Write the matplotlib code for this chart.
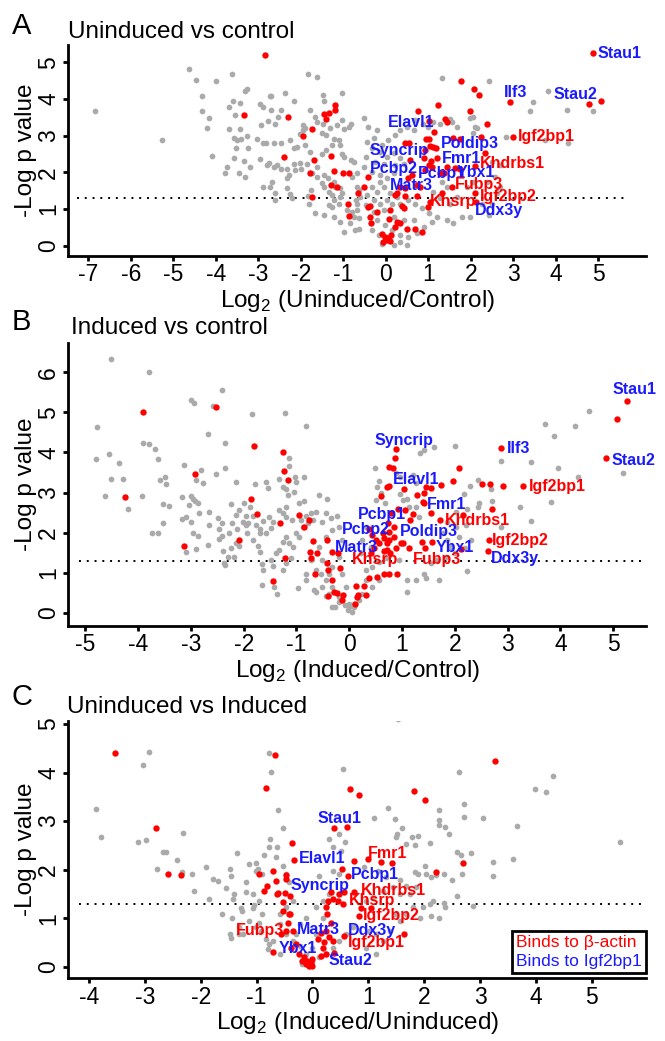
import numpy as np
import matplotlib
matplotlib.use("Agg")
import matplotlib.pyplot as plt
from matplotlib.lines import Line2D

plt.rcParams['font.family'] = ['Liberation Sans', 'DejaVu Sans']
plt.rcParams['axes.unicode_minus'] = False
plt.rcParams['mathtext.fontset'] = 'custom'
plt.rcParams['mathtext.rm'] = 'Liberation Sans'

GRAY = '#aaaaaa'
RED = '#ff0000'
BLUE = '#1a1aff'
thresh = -np.log10(0.05)

# ---------------- Panel A: Uninduced vs control ----------------
gray_a = [
    (-6.85, 3.67), (-5.27, 2.88), (-4.64, 4.82), (-4.48, 4.51), (-4.01, 4.48), (-4.33, 4.08), (-4.33, 3.68),
    (-4.17, 3.47), (-4.22, 3.22), (-4.09, 2.44), (-3.62, 4.67), (-3.61, 3.94), (-3.70, 3.77), (-3.44, 3.88),
    (-3.54, 3.56), (-3.69, 3.18), (-3.44, 3.18), (-3.58, 2.94), (-3.50, 2.88), (-3.42, 2.92), (-3.52, 2.65),
    (-3.24, 2.65), (-3.27, 2.99), (-3.58, 2.38), (-3.35, 2.31), (-3.74, 2.15), (-3.79, 1.99), (-3.45, 1.99),
    (-3.31, 1.88), (-3.19, 2.15), (-3.31, 4.21), (-3.27, 4.27), (-2.97, 3.86), (-2.89, 3.77), (-2.95, 3.29),
    (-2.78, 3.41), (-2.73, 4.08), (-2.70, 4.08), (-3.03, 2.90), (-2.89, 2.81), (-2.83, 2.79), (-2.97, 2.35),
    (-2.64, 2.79), (-2.70, 3.70), (-2.55, 3.50), (-2.37, 4.15), (-2.17, 3.95), (-2.46, 3.70), (-2.60, 3.33),
    (-2.48, 2.81), (-2.89, 1.59), (-2.68, 1.74), (-2.72, 1.61), (-2.75, 2.26), (-2.81, 2.20), (-2.64, 2.15),
    (-2.56, 2.20), (-2.48, 2.10), (-2.33, 2.08), (-2.29, 1.93), (-2.33, 1.84), (-2.33, 1.56), (-2.60, 1.44),
    (-2.60, 1.24), (-2.25, 1.40), (-2.21, 1.29), (-2.25, 2.88), (-2.02, 3.04), (-2.17, 2.65), (-2.09, 2.68),
    (-1.94, 3.29), (-1.90, 3.20), (-1.96, 3.15), (-1.83, 4.68), (-1.62, 4.60), (-1.78, 3.71), (-1.68, 3.52),
    (-1.62, 3.38), (-1.90, 2.74), (-1.78, 2.56), (-1.86, 2.24), (-1.62, 2.15), (-1.74, 1.97), (-1.62, 1.88),
    (-1.76, 1.53), (-1.83, 1.35), (-1.81, 1.15), (-2.02, 2.26), (-2.17, 2.24), (-2.13, 2.06), (-2.00, 2.08),
    (-1.66, 0.90), (-1.46, 0.83), (-1.48, 4.10), (-1.46, 3.94), (-1.03, 4.15), (-1.48, 3.31), (-1.32, 3.20),
    (-1.50, 3.06), (-1.42, 3.02), (-1.27, 2.74), (-1.42, 2.61), (-1.50, 2.50), (-1.07, 2.74), (-1.03, 3.42),
    (-1.15, 3.29), (-0.99, 3.17), (-0.87, 3.24), (-0.83, 3.33), (-1.23, 2.92), (-1.11, 2.88), (-1.03, 2.50),
    (-0.99, 2.43), (-0.83, 2.34), (-0.75, 2.29), (-1.46, 1.93), (-1.36, 1.84), (-1.50, 1.70), (-1.46, 1.61),
    (-1.23, 1.74), (-1.19, 1.61), (-1.34, 1.47), (-1.27, 1.38), (-1.09, 1.56), (-1.03, 1.45), (-1.07, 1.34),
    (-1.11, 1.15), (-1.23, 1.24), (-1.34, 1.11), (-1.27, 1.06), (-0.99, 0.38), (-0.91, 0.97), (-0.79, 0.93),
    (-0.75, 0.79), (-0.63, 0.47), (-0.71, 1.24), (-0.68, 1.15), (-0.68, 1.61), (-0.64, 1.52), (-0.79, 1.88),
    (-0.68, 1.97), (-1.23, 0.79), (-1.07, 0.65), (-0.84, 0.61), (-0.68, 0.97), (-0.60, 1.34), (-0.72, 0.43),
    (-0.64, 0.75),
    (-0.52, 3.47), (-0.41, 3.24), (-0.21, 3.15), (-0.29, 2.93), (-0.45, 2.83), (-0.09, 2.74), (0.06, 2.88),
    (0.22, 3.02), (0.34, 3.15), (0.50, 3.24), (0.65, 3.15), (0.69, 3.42), (0.87, 3.32), (1.12, 3.38),
    (1.28, 3.33), (1.67, 3.24), (2.06, 3.52), (2.14, 3.20), (2.06, 3.06), (-0.33, 2.65), (-0.13, 2.56),
    (0.03, 2.43), (0.18, 2.52), (0.34, 2.38), (0.42, 2.24), (0.22, 2.20), (-0.05, 2.24), (-0.25, 2.29),
    (-0.48, 2.43), (-0.52, 2.15), (-0.33, 2.02), (-0.13, 1.93), (0.03, 1.84), (0.18, 1.97), (-0.13, 1.74),
    (-0.33, 1.61), (-0.21, 1.47), (-0.05, 1.61), (0.10, 1.43), (0.26, 1.34), (0.03, 1.24), (-0.13, 1.15),
    (-0.29, 1.24), (-0.45, 1.38), (-0.48, 1.11), (-0.29, 0.93), (-0.05, 0.97), (0.14, 1.15), (0.34, 1.15),
    (0.53, 1.24), (0.69, 1.15), (0.85, 1.02), (1.01, 0.88), (1.20, 0.79), (1.44, 0.70), (1.59, 0.61),
    (1.79, 0.79), (1.99, 0.79), (2.42, 0.84), (2.26, 1.15), (2.50, 1.15), (2.61, 1.43), (2.69, 1.61),
    (2.57, 1.88), (2.38, 1.74), (2.06, 1.74), (1.91, 1.61), (1.67, 1.34), (1.52, 1.15), (1.28, 1.29),
    (1.12, 1.47), (1.44, 1.61), (1.32, 1.74), (-0.21, 0.70), (-0.01, 0.56), (0.14, 0.43), (0.34, 0.29),
    (0.53, 0.25), (0.73, 0.34), (0.89, 0.52), (1.08, 0.65), (0.65, 0.70), (0.42, 0.70), (0.18, 0.79),
    (-0.33, 0.43), (-0.17, 0.29), (0.03, 0.20), (-0.09, 0.06), (0.18, 0.02), (0.34, 0.11), (0.50, 0.02),
    (2.69, 2.20), (2.50, 2.29), (3.47, 3.92), (3.81, 4.22), (4.26, 3.71), (4.87, 3.68), (3.38, 3.68),
    (2.83, 2.95), (3.75, 2.88), (4.28, 2.79), (1.32, 4.56), (2.42, 4.50), (1.99, 3.47), (1.52, 3.44),
    (1.56, 3.38), (1.00, 3.24), (2.10, 3.24),
]
red_a = [
    (-2.84, 5.19), (-3.35, 3.56), (-2.30, 3.50), (-2.41, 2.43), (-1.96, 2.99), (-1.74, 3.17), (-1.69, 2.34),
    (-1.78, 1.99), (-1.74, 1.32), (-1.46, 3.59), (-1.35, 3.62), (-1.41, 3.46), (-1.19, 3.83), (-1.19, 3.70),
    (-1.30, 2.44), (-1.21, 2.03), (-1.02, 1.97), (-0.88, 1.99), (-1.29, 1.65), (-1.14, 1.61), (-0.90, 1.15),
    (-0.88, 0.81), (-0.66, 1.44),
    (4.87, 5.24), (5.07, 3.94), (4.77, 3.86), (2.91, 3.92), (3.00, 2.95), (1.77, 4.48), (2.07, 4.26),
    (2.18, 4.10), (1.98, 3.67), (2.38, 3.31), (2.24, 2.97), (2.34, 2.52), (2.10, 2.18), (1.23, 3.83),
    (0.76, 3.68), (1.39, 3.44), (1.44, 3.38), (1.01, 3.40), (1.13, 3.11), (0.95, 2.92), (1.01, 2.90),
    (1.58, 2.93), (1.75, 2.92), (0.46, 2.81), (0.54, 2.79), (1.04, 2.72), (1.11, 2.68), (1.19, 2.65),
    (0.93, 2.61), (0.56, 2.33), (0.89, 2.38), (1.06, 2.32), (1.20, 2.38), (1.01, 2.20), (1.09, 2.15),
    (0.93, 2.06), (1.44, 2.15), (1.63, 2.13), (1.75, 2.08), (1.28, 1.97), (1.37, 1.97), (0.61, 1.93),
    (0.53, 1.84), (0.73, 1.65), (0.81, 1.61), (0.46, 1.56), (0.34, 1.61), (0.26, 1.43), (0.22, 1.38),
    (1.56, 1.61), (1.33, 1.44), (0.73, 1.36), (0.44, 1.36), (2.09, 1.44), (2.13, 1.20), (1.04, 1.20),
    (0.98, 1.05), (0.38, 1.08), (0.42, 1.02), (0.10, 0.97), (0.07, 0.74), (0.26, 0.65), (0.34, 0.61),
    (0.22, 0.52), (0.50, 0.47), (0.69, 0.47), (0.86, 0.38), (-0.09, 0.32), (-0.01, 0.25), (0.02, 0.16),
    (-0.07, 0.11), (0.10, 0.14), (0.05, 0.22), (0.12, 0.30), (-0.41, 1.06), (-0.37, 0.79), (-0.35, 0.61),
    (-0.21, 0.93), (-0.41, 1.88), (-0.52, 1.61), (-0.38, 1.08),
]
labels_a = [
    ("Stau1", 4.98, 5.24, BLUE), ("Ilf3", 2.77, 4.17, BLUE), ("Stau2", 3.95, 4.13, BLUE),
    ("Elavl1", 0.04, 3.36, BLUE), ("Igf2bp1", 3.10, 2.99, RED), ("Poldip3", 1.30, 2.79, BLUE),
    ("Syncrip", -0.38, 2.59, BLUE), ("Fmr1", 1.32, 2.38, BLUE), ("Khdrbs1", 2.22, 2.24, RED),
    ("Pcbp2", -0.38, 2.11, BLUE), ("Pcbp1", 0.75, 1.97, BLUE), ("Ybx1", 1.67, 1.99, BLUE),
    ("Matr3", 0.10, 1.65, BLUE), ("Fubp3", 1.63, 1.68, RED), ("Igf2bp2", 2.22, 1.34, RED),
    ("Khsrp", 1.03, 1.20, RED), ("Ddx3y", 2.10, 0.97, BLUE),
]

# ---------------- Panel B: Induced vs control ----------------
gray_b = [
    (-4.51, 6.32), (-3.79, 6.00), (-2.41, 5.57), (-3.00, 5.31), (-2.94, 5.24), (-2.59, 5.17), (-1.84, 4.97),
    (-1.21, 4.99), (-0.82, 4.67), (-4.78, 4.63), (-2.68, 4.47), (-2.36, 4.24), (-3.91, 4.24), (-3.80, 4.22),
    (-3.68, 4.08), (-4.80, 3.83), (-4.55, 3.95), (-4.37, 3.73), (-3.62, 3.84), (-3.14, 3.68), (-2.80, 3.56),
    (-2.35, 3.62), (-2.53, 3.46), (-3.50, 3.39), (-3.58, 3.31), (-3.47, 3.21), (-4.51, 3.35), (-4.28, 3.33),
    (-2.90, 3.31), (-2.78, 3.25), (-2.15, 3.27), (-1.78, 3.21), (-4.62, 2.91), (-3.93, 2.91), (-4.20, 2.60),
    (-3.52, 2.72), (-3.41, 2.67), (-3.17, 2.88), (-3.00, 2.92), (-2.97, 2.85), (-2.93, 2.79), (-2.87, 2.73),
    (-3.03, 2.70), (-2.85, 2.49), (-3.17, 2.33), (-3.00, 2.27), (-3.09, 2.39), (-2.66, 2.51), (-2.49, 2.36),
    (-2.41, 2.23), (-2.66, 2.20), (-2.46, 2.08), (-2.41, 1.91), (-3.52, 2.25), (-3.74, 1.98), (-3.62, 1.98),
    (-2.97, 2.00), (-2.87, 1.91), (-3.09, 1.51), (-2.91, 1.59), (-2.25, 2.71), (-2.15, 2.44), (-2.08, 2.56),
    (-2.22, 2.23), (-2.27, 2.00), (-2.13, 2.08), (-2.14, 1.73), (-2.24, 1.61), (-2.30, 1.40), (-2.39, 1.55),
    (-2.38, 1.25), (-2.35, 1.19), (-2.68, 1.70), (-2.46, 1.83), (-2.18, 1.40), (-1.99, 2.73), (-1.96, 2.41),
    (-1.91, 2.25), (-1.83, 2.42), (-2.01, 2.26), (-1.96, 2.19), (-1.77, 2.19), (-1.64, 2.30), (-2.08, 1.67),
    (-1.89, 2.65), (-1.58, 3.27), (-1.54, 3.11), (-1.33, 3.33), (-1.26, 3.14), (-1.19, 3.08), (-1.17, 2.94),
    (-1.19, 2.65), (-1.15, 3.85), (-1.14, 3.66), (-1.02, 3.38), (-1.04, 3.02), (-1.01, 3.27), (-0.85, 3.39),
    (-1.33, 2.57), (-1.26, 2.48), (-1.20, 2.40), (-1.09, 2.31), (-1.52, 2.40), (-1.45, 2.27), (-1.48, 2.12),
    (-1.70, 2.10), (-1.69, 1.98), (-1.58, 1.98), (-1.93, 1.98), (-1.83, 1.81), (-1.72, 1.66), (-1.70, 1.51),
    (-1.65, 1.21), (-1.64, 1.07), (-1.48, 1.32), (-1.45, 1.17), (-1.39, 1.48), (-1.33, 1.56), (-1.26, 1.76),
    (-1.20, 1.88), (-0.95, 2.73), (-0.85, 2.78), (-1.10, 1.36), (-1.20, 1.23), (-1.26, 1.08), (-1.42, 0.65),
    (-1.37, 0.48), (-1.65, 0.70), (-0.98, 0.63), (-0.82, 0.83), (-0.82, 0.98), (-0.66, 0.57), (-0.63, 0.53),
    (-0.44, 0.42), (-0.32, 0.15), (-0.27, 0.15), (-0.19, 0.28),
    (-1.14, 1.73), (-1.07, 1.65), (-1.01, 1.98), (-0.95, 1.90), (-0.88, 2.15), (-0.79, 2.23), (-0.69, 2.31),
    (-0.92, 2.31), (-0.82, 2.41), (-0.73, 2.48), (-0.63, 2.52), (-0.57, 2.94), (-0.43, 2.83), (-0.23, 2.41),
    (-0.44, 2.48), (-0.35, 2.37), (-0.51, 2.27), (-0.73, 1.32), (-0.63, 1.07), (-0.54, 0.98), (-0.44, 0.82),
    (-0.51, 0.65), (-0.38, 0.48), (0.00, 0.15), (0.09, 0.23), (-0.09, 0.19), (-0.03, 0.07), (0.06, 0.03),
    (-0.19, 0.40), (-0.32, 0.65), (-0.38, 0.98), (-0.32, 1.15), (-0.51, 1.32), (-0.57, 1.65), (-0.44, 1.90),
    (-0.32, 2.06), (-0.19, 2.15), (-0.13, 1.81), (-0.19, 1.40), (-0.13, 0.98), (-0.06, 0.65),
    (4.55, 5.04), (4.28, 4.67), (3.71, 4.71), (3.88, 4.42), (3.45, 3.76), (3.95, 3.60), (4.34, 3.39),
    (5.18, 3.49), (3.82, 2.76), (3.44, 2.29), (2.87, 3.79), (3.24, 2.63), (2.70, 2.78), (2.46, 2.73),
    (2.43, 2.65), (2.68, 3.08), (2.87, 2.15), (2.44, 3.31), (2.29, 3.17), (2.00, 4.16), (2.18, 2.96),
    (2.02, 2.52), (2.24, 2.58), (1.86, 2.26), (2.02, 2.15), (2.21, 2.19), (2.08, 1.90), (2.20, 1.61),
    (2.30, 1.81), (2.24, 1.05), (1.70, 0.83), (1.45, 0.87), (1.10, 0.53), (1.42, 4.06), (1.34, 3.98),
    (1.61, 4.14), (0.49, 3.60), (0.56, 3.29), (0.52, 3.14), (1.26, 3.23), (1.20, 3.44), (0.88, 3.48),
    (0.96, 3.38), (0.51, 2.81), (0.61, 2.98), (0.67, 2.75), (1.01, 2.81), (1.09, 2.83), (0.96, 2.96),
    (1.26, 2.65), (1.14, 2.65), (1.33, 2.40), (1.77, 1.98), (1.86, 1.81), (1.93, 1.63), (2.01, 1.48),
    (1.83, 1.40), (1.64, 1.32), (1.55, 1.23), (1.42, 0.98), (1.26, 0.82), (1.10, 0.82), (0.32, 1.07),
    (0.44, 1.15), (0.57, 1.27), (0.69, 1.36), (0.95, 1.32), (0.00, 0.23), (0.09, 0.15), (0.19, 0.32),
    (0.25, 0.48), (0.32, 2.15), (0.25, 1.81), (0.41, 1.65), (0.22, 1.48), (0.32, 0.82), (0.44, 0.65),
    (0.57, 0.82),
]
red_b = [
    (-3.90, 5.01), (-2.53, 5.13), (-4.24, 2.90), (-2.92, 3.46), (-3.13, 1.66), (-1.80, 4.16), (-1.26, 4.02),
    (-1.24, 3.53), (-1.16, 3.32), (-1.86, 2.83), (-1.74, 2.47), (-2.08, 1.82), (-1.31, 2.25), (-0.95, 2.44),
    (-0.77, 2.31), (-0.85, 2.13), (-1.21, 1.36), (-1.45, 0.79), (-0.68, 1.79), (-0.43, 1.81), (-0.74, 1.51),
    (-0.62, 1.48), (-0.73, 1.36), (-0.33, 1.51), (-0.22, 1.48), (-0.43, 1.23), (-0.41, 1.07), (-0.17, 1.12),
    (-0.65, 0.98), (-0.33, 0.83), (-0.41, 0.42), (-0.28, 0.51), (-0.23, 0.50), (-0.11, 0.45), (-0.14, 0.32),
    (0.13, 0.67), (0.14, 0.40),
    (5.27, 5.28), (5.07, 4.83), (4.87, 3.87), (2.88, 4.12), (3.30, 3.17), (2.92, 3.17), (2.66, 3.21),
    (2.51, 3.21), (2.71, 2.58), (2.07, 3.60), (1.96, 3.30), (1.74, 3.20), (2.15, 2.44), (1.55, 2.48),
    (1.72, 2.31), (2.65, 1.81), (2.63, 1.54), (2.11, 1.58), (1.38, 1.77), (1.57, 1.76), (1.43, 1.61),
    (1.14, 1.61), (1.01, 1.73), (0.88, 4.09), (0.87, 3.85), (0.75, 3.64), (0.83, 3.60), (0.75, 3.16),
    (0.71, 3.14), (0.60, 2.91), (1.04, 3.08), (1.29, 2.93), (1.42, 2.99), (1.45, 3.14), (1.55, 3.12),
    (1.39, 2.77), (1.42, 2.73), (1.20, 2.46), (1.16, 2.31), (0.93, 2.60), (1.06, 2.56), (0.79, 2.50),
    (0.73, 2.23), (0.85, 2.15), (0.63, 1.98), (0.76, 2.02), (0.66, 1.86), (0.76, 1.81), (0.85, 1.88),
    (0.71, 1.73), (0.38, 2.10), (0.44, 1.94), (0.51, 1.81), (0.57, 1.73), (0.47, 1.61), (0.41, 1.48),
    (0.98, 1.73), (0.88, 1.61), (0.72, 1.56), (0.77, 1.48), (0.66, 1.55), (0.90, 0.98), (0.76, 0.98),
    (0.66, 0.97), (0.52, 0.90), (0.38, 0.86), (0.28, 0.67), (0.32, 0.44), (0.16, 0.44), (0.11, 0.23),
]
labels_b = [
    ("Stau1", 4.99, 5.56, BLUE), ("Syncrip", 0.47, 4.31, BLUE), ("Ilf3", 2.98, 4.10, BLUE),
    ("Stau2", 4.97, 3.81, BLUE), ("Elavl1", 0.82, 3.33, BLUE), ("Igf2bp1", 3.40, 3.14, RED),
    ("Fmr1", 1.48, 2.71, BLUE), ("Pcbp1", 0.16, 2.46, BLUE), ("Khdrbs1", 1.82, 2.30, RED),
    ("Pcbp2", -0.14, 2.08, BLUE), ("Poldip3", 0.95, 2.02, BLUE), ("Igf2bp2", 2.71, 1.81, RED),
    ("Matr3", -0.28, 1.63, BLUE), ("Ybx1", 1.64, 1.63, BLUE), ("Khsrp", 0.05, 1.32, RED),
    ("Fubp3", 1.21, 1.32, RED), ("Ddx3y", 2.68, 1.36, BLUE),
]

# ---------------- Panel C: Uninduced vs Induced ----------------
gray_c = [
    (-3.88, 3.24), (-3.78, 2.67), (-3.13, 2.57), (-2.99, 2.62), (-3.03, 4.15), (-2.92, 4.42), (-2.78, 2.02),
    (-2.68, 2.37), (-2.63, 2.37), (-2.43, 2.20), (-2.32, 2.75), (-2.34, 1.96), (-2.15, 1.90), (-2.13, 1.56),
    (-1.91, 2.05), (-1.79, 1.81), (-1.70, 1.77), (-1.85, 1.39), (-1.62, 1.08), (-1.55, 1.62), (-1.48, 2.02),
    (-1.46, 1.86), (-1.35, 2.35), (-1.44, 1.01), (-1.42, 1.39), (-1.40, 1.50), (-1.28, 1.21), (-1.26, 1.15),
    (-1.19, 1.74), (-1.19, 1.53), (-1.14, 2.12), (-1.07, 1.50), (-1.04, 1.28), (-1.48, 0.67), (-1.46, 0.60),
    (-1.31, 0.68), (-1.01, 2.13), (-1.01, 1.98), (-0.77, 4.40), (-0.74, 4.02), (-0.62, 3.22), (-0.52, 2.86),
    (-0.63, 2.46), (-0.65, 2.26), (-0.53, 2.08), (0.54, 4.07), (0.30, 2.64), (0.36, 2.46), (0.48, 2.74),
    (0.59, 2.57), (0.51, 2.39), (0.12, 1.86),
    (-1.31, 0.82), (-1.25, 0.67), (-0.95, 1.36), (-1.07, 1.21), (-0.90, 1.08), (-0.95, 0.91), (-0.92, 0.74),
    (-0.83, 0.57), (-0.80, 0.36), (-0.71, 0.53), (-0.86, 2.31), (-0.77, 2.46), (-0.76, 2.64), (-0.47, 1.91),
    (-0.42, 1.74), (-0.98, 2.01), (-0.90, 1.91), (0.36, 1.98), (0.48, 1.91), (0.30, 1.50), (0.18, 1.36),
    (0.06, 1.22), (-0.12, 1.01), (-0.23, 0.88), (-0.29, 0.67), (-0.35, 0.53), (-0.23, 0.43), (-0.12, 0.26),
    (0.00, 0.12), (0.12, 0.19), (0.24, 0.26), (0.36, 0.39), (0.48, 0.53), (0.60, 0.67), (0.72, 0.81),
    (-0.35, 1.36), (-0.47, 1.22), (-0.59, 1.08), (0.06, 0.67), (0.18, 1.01), (-0.59, 0.88), (-0.47, 0.67),
    (0.00, 0.39), (-0.18, 0.05), (-0.06, 0.01), (-1.13, 0.95), (-1.01, 0.81), (-0.77, 0.46), (-0.59, 0.26),
    (1.53, 5.11), (2.63, 4.02), (4.31, 3.93), (3.99, 3.66), (4.19, 3.60), (1.35, 3.27), (2.27, 3.22),
    (2.71, 3.36), (2.71, 3.08), (3.05, 3.06), (3.66, 2.90), (5.50, 2.56), (1.11, 3.07), (1.48, 3.04),
    (1.60, 2.86), (2.26, 2.91), (2.37, 2.88), (2.26, 3.02), (2.44, 2.74), (1.51, 2.74), (1.49, 2.68),
    (1.79, 2.67), (1.89, 2.69), (2.11, 2.55), (1.83, 2.50), (1.68, 2.53), (2.59, 2.37), (2.66, 2.31),
    (2.83, 2.34), (3.23, 2.15), (3.24, 1.86), (3.59, 2.22), (2.67, 1.91), (2.01, 2.08), (2.22, 1.88),
    (2.35, 1.90), (2.50, 1.79), (2.59, 1.46), (2.36, 1.32), (2.38, 1.24), (2.87, 1.26), (2.27, 1.01),
    (1.83, 1.95), (1.89, 1.91), (2.04, 1.91), (2.13, 1.84), (2.16, 1.36), (2.10, 1.29), (1.98, 1.22),
    (2.13, 1.05), (0.96, 1.36), (1.08, 1.43), (1.26, 1.57), (1.44, 1.64), (1.56, 1.78), (1.68, 1.67),
    (1.47, 1.08), (1.56, 0.95), (1.68, 1.08), (1.80, 1.22), (1.92, 1.01), (1.02, 0.74), (1.14, 0.67),
    (1.26, 0.53), (1.38, 0.74), (1.56, 1.50), (1.74, 1.50), (1.86, 1.64), (1.14, 0.26), (0.96, 0.39),
    (0.93, 2.05), (1.17, 1.98), (1.32, 1.84),
]
red_c = [
    (-3.53, 4.41), (-2.80, 2.86), (-2.59, 1.90), (-2.35, 1.88), (-0.68, 4.37), (-0.83, 3.68), (-0.37, 2.55),
    (-0.34, 2.19), (-0.71, 1.98), (-0.96, 1.91), (-0.86, 1.55), (-0.81, 1.67), (-0.66, 1.77), (-0.47, 1.89),
    (-0.47, 1.81), (-0.64, 1.50), (-0.61, 1.51), (-0.50, 1.51), (-0.41, 1.46), (-0.53, 1.33), (-0.52, 1.15),
    (-0.42, 1.08), (-0.56, 0.67), (-0.47, 0.74), (-0.71, 0.31), (-0.38, 0.39), (-0.29, 0.46), (-0.24, 0.26),
    (-0.15, 0.19), (-0.12, 0.05), (-0.06, 0.01), (0.00, 0.01), (-0.18, 0.12), (-0.09, 0.12), (-0.03, 0.08),
    (0.00, 0.15), (-0.35, 0.74), (-0.44, 0.91), (-0.41, 1.08),
    (0.39, 2.86), (0.61, 2.88), (0.52, 2.01), (0.75, 2.17), (0.63, 1.86), (0.33, 1.53), (0.48, 1.50),
    (0.57, 1.53), (0.75, 1.53), (0.27, 1.36), (0.36, 1.39), (0.45, 1.36), (0.54, 1.29), (0.24, 1.22),
    (0.26, 1.08), (0.33, 0.91), (0.24, 0.74), (0.30, 0.61), (0.36, 0.53), (0.15, 0.70), (0.09, 0.57),
    (0.18, 0.39), (0.24, 0.26), (0.15, 0.22), (0.21, 0.50), (0.57, 0.64), (0.39, 0.29), (0.68, 3.66),
    (0.84, 3.54), (3.27, 4.24), (1.81, 3.62), (2.02, 3.44), (0.99, 2.22), (1.23, 2.15), (1.42, 2.13),
    (2.22, 1.95), (2.69, 2.13), (1.64, 0.68), (0.87, 1.21), (1.04, 1.20), (0.83, 1.05),
]
labels_c = [
    ("Stau1", 0.09, 3.05, BLUE), ("Elavl1", -0.24, 2.22, BLUE), ("Fmr1", 0.99, 2.33, RED),
    ("Pcbp1", 0.69, 1.90, BLUE), ("Syncrip", -0.40, 1.68, BLUE), ("Khdrbs1", 0.87, 1.58, RED),
    ("Khsrp", 0.66, 1.37, RED), ("Igf2bp2", 0.90, 1.05, RED), ("Fubp3", -1.38, 0.75, RED),
    ("Matr3", -0.28, 0.77, BLUE), ("Ddx3y", 0.63, 0.74, BLUE), ("Igf2bp1", 0.63, 0.50, RED),
    ("Ybx1", -0.60, 0.38, BLUE), ("Stau2", 0.29, 0.13, BLUE),
]

panels = [
    dict(gray=gray_a, red=red_a, labels=labels_a, rect=[0.103, 0.7544, 0.869, 0.2024],
         xlim=(-7.47, 6.13), ylim=(-0.27, 5.47), xticks=range(-7, 6), yticks=range(0, 6),
         line=(-7.28, 5.66), letter='A', letter_y=0.967, title='Uninduced vs control',
         title_x=0.102, title_y=0.9632, xlabel=r'Log$_{\mathregular{2}}$ (Uninduced/Control)'),
    dict(gray=gray_b, red=red_b, labels=labels_b, rect=[0.103, 0.3990, 0.869, 0.2719],
         xlim=(-5.32, 5.63), ylim=(-0.32, 6.74), xticks=range(-5, 6), yticks=range(0, 7),
         line=(-5.13, 5.62), letter='B', letter_y=0.683, title='Induced vs control',
         title_x=0.107, title_y=0.679, xlabel=r'Log$_{\mathregular{2}}$ (Induced/Control)'),
    dict(gray=gray_c, red=red_c, labels=labels_c, rect=[0.103, 0.0602, 0.869, 0.2475],
         xlim=(-4.37, 5.98), ylim=(-0.24, 5.07), xticks=range(-4, 6), yticks=range(0, 6),
         line=(-4.19, 5.91), letter='C', letter_y=0.3228, title='Uninduced vs Induced',
         title_x=0.101, title_y=0.3148, xlabel=r'Log$_{\mathregular{2}}$ (Induced/Uninduced)'),
]

fig = plt.figure(figsize=(6.65, 10.41), dpi=100)

for p in panels:
    ax = fig.add_axes(p['rect'])
    g = np.array(p['gray'])
    r = np.array(p['red'])
    ax.scatter(g[:, 0], g[:, 1], s=17, color=GRAY, linewidths=0, zorder=2)
    ax.scatter(r[:, 0], r[:, 1], s=21, color=RED, linewidths=0, zorder=3)
    ax.hlines(thresh, p['line'][0], p['line'][1], colors='black',
              linestyles=(0, (1, 3)), linewidth=1.4, zorder=1)
    for name, lx, ly, col in p['labels']:
        ax.text(lx, ly, name, color=col, fontsize=11.5, fontweight='bold',
                ha='left', va='center', zorder=4, clip_on=False)

    ax.set_xlim(*p['xlim'])
    ax.set_ylim(*p['ylim'])
    ax.set_xticks(list(p['xticks']))
    ax.set_yticks(list(p['yticks']))
    for s in ['top', 'right']:
        ax.spines[s].set_visible(False)
    for s in ['left', 'bottom']:
        ax.spines[s].set_linewidth(2)
    ax.tick_params(width=2, length=3.5, labelsize=16.5)
    ax.tick_params(axis='x', pad=2)
    ax.tick_params(axis='y', pad=2.5)
    for t in ax.get_yticklabels():
        t.set_rotation(90)
        t.set_va('center')
    ax.set_xlabel(p['xlabel'], fontsize=17.5, labelpad=1)

    bb = ax.get_position()
    fig.text(0.0398, bb.y0 + bb.height / 2, '-Log p value', rotation=90,
             ha='center', va='center', fontsize=17.5)
    fig.text(0.018, p['letter_y'], p['letter'], fontsize=21, ha='left', va='baseline')
    fig.text(p['title_x'], p['title_y'], p['title'], fontsize=17.5, ha='left', va='baseline')

    if p['letter'] == 'C':
        handles = [Line2D([], [], linestyle='none'), Line2D([], [], linestyle='none')]
        leg = ax.legend(handles, ['Binds to \u03b2-actin', 'Binds to Igf2bp1'],
                        loc='lower right', bbox_to_anchor=(1.0, 0.02), borderaxespad=0,
                        handlelength=0, handletextpad=0, fontsize=12.5, labelspacing=0.2,
                        borderpad=0.25, fancybox=False, framealpha=1,
                        labelcolor=[RED, BLUE])
        leg.get_frame().set_edgecolor('black')
        leg.get_frame().set_linewidth(2)

fig.savefig('out.png', dpi=100)
